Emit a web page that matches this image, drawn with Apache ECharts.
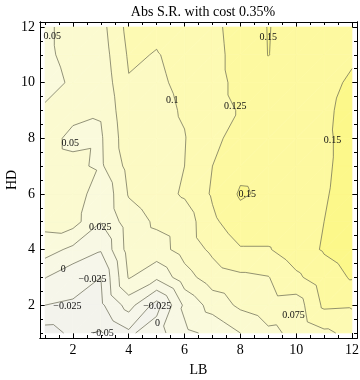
<!DOCTYPE html>
<html><head><meta charset="utf-8">
<script src="https://cdn.jsdelivr.net/npm/echarts@6/dist/echarts.min.js"></script>
<style>html,body{margin:0;padding:0;background:#fff}#c{width:360px;height:380px}</style>
</head><body><div id="c"></div>
<script>
// Grid axes
const LB = [1,2,3,4,5,6,7,8,9,10,11,12];
const HD = [1,2,3,4,5,6,7,8,9,10,11,12];
// Values by row (HD = 1 .. 12), columns LB = 1 .. 12
const HD1  = [-0.06, -0.045, -0.052, -0.03, -0.01, 0.02, 0.03, 0.05, 0.07, 0.08, 0.095, 0.107];
const HD2  = [-0.025, -0.027, -0.03, 0.01, -0.035, 0.03, 0.06, 0.08, 0.09, 0.087, 0.13, 0.128];
const HD3  = [0.001, -0.018, -0.025, 0.052, 0.03, 0.065, 0.088, 0.095, 0.099, 0.12, 0.14, 0.152];
const HD4  = [0.036, 0.019, 0.002, 0.06, 0.065, 0.085, 0.105, 0.123, 0.123, 0.14, 0.152, 0.16];
const HD5  = [0.058, 0.06, 0.026, 0.0624, 0.079, 0.086, 0.12, 0.14, 0.14, 0.145, 0.15, 0.159];
const HD6  = [0.06, 0.073, 0.027, 0.077, 0.09, 0.103, 0.128, 0.153, 0.145, 0.145, 0.148, 0.159];
const HD7  = [0.058, 0.0553, 0.046, 0.083, 0.09, 0.1, 0.125, 0.143, 0.142, 0.143, 0.147, 0.157];
const HD8  = [0.058, 0.045, 0.047, 0.091, 0.093, 0.099, 0.12, 0.133, 0.14, 0.143, 0.147, 0.156];
const HD9  = [0.054, 0.056, 0.052, 0.0946, 0.094, 0.102, 0.12, 0.126, 0.14, 0.142, 0.146, 0.157];
const HD10 = [0.04, 0.054, 0.058, 0.0985, 0.097, 0.104, 0.12, 0.129, 0.14, 0.14, 0.14, 0.155];
const HD11 = [0.045, 0.058, 0.062, 0.103, 0.099, 0.106, 0.12, 0.131, 0.1505, 0.14, 0.14, 0.145];
const HD12 = [0.045, 0.06, 0.066, 0.108, 0.104, 0.113, 0.121, 0.132, 0.151, 0.14, 0.14, 0.145];
const Z = [HD1, HD2, HD3, HD4, HD5, HD6, HD7, HD8, HD9, HD10, HD11, HD12];

const levels = [-0.05, -0.025, 0, 0.025, 0.05, 0.075, 0.1, 0.125, 0.15];
const bandColors = ['#efefec','#f3f3ec','#f6f6ea','#f8f8e4','#fafadc','#fbfad0','#fcfac3','#fdfab3','#fdf9a0','#fcf88a'];

// Contour labels (LB, HD, text)
const labelLB   = [1.26, 5.56, 7.82, 9.0, 1.9, 11.3, 8.25, 2.98, 1.65, 2.7, 1.8, 3.05, 5.02, 5.03, 9.9];
const labelHD   = [11.65, 9.38, 9.13, 11.62, 7.83, 7.94, 6.0, 4.81, 3.3, 2.94, 1.94, 1.0, 1.94, 1.36, 1.65];
const labelText = ['0.05','0.1','0.125','0.15','0.05','0.15','0.15','0.025','0','\u22120.025','\u22120.025','\u22120.05','\u22120.025','0','0.075'];

const xMajor = [2,4,6,8,10,12];
const yMajor = [2,4,6,8,10,12];
const minor = [];
for (let t = 1; t <= 12; t += 0.5) if (t % 2 !== 0) minor.push(t);

const SERIF = '"Liberation Serif", "DejaVu Serif", serif';
const PAD = 0.18;

function lerp(a, b, L) {
  const t = (L - a.v) / (b.v - a.v);
  return {x: a.x + t * (b.x - a.x), y: a.y + t * (b.y - a.y), v: L};
}
function clip(poly, L, above) {
  const out = [];
  const inside = p => above ? p.v >= L : p.v <= L;
  for (let i = 0; i < poly.length; i++) {
    const a = poly[i], b = poly[(i + 1) % poly.length];
    const ia = inside(a), ib = inside(b);
    if (ia) out.push(a);
    if (ia !== ib) out.push(lerp(a, b, L));
  }
  return out;
}
function cellTris(x0, y0) {
  const ci = LB.indexOf(x0), cj = HD.indexOf(y0);
  const P = (i, j) => ({x: LB[i], y: HD[j], v: Z[j][i]});
  const p00 = P(ci, cj), p10 = P(ci + 1, cj), p11 = P(ci + 1, cj + 1), p01 = P(ci, cj + 1);
  return [[p00, p10, p11], [p00, p11, p01]];
}
const cells = [];
for (let j = 0; j < HD.length - 1; j++) for (let i = 0; i < LB.length - 1; i++) cells.push([LB[i], HD[j]]);

function renderFill(params, api) {
  const tris = cellTris(api.value(0), api.value(1));
  const children = [];
  tris.forEach(tri => {
    for (let k = 0; k <= levels.length; k++) {
      let poly = tri;
      if (k > 0) poly = clip(poly, levels[k - 1], true);
      if (poly.length >= 3 && k < levels.length) poly = clip(poly, levels[k], false);
      if (poly.length >= 3) {
        const pts = poly.map(p => api.coord([p.x, p.y]));
        const c = bandColors[k];
        children.push({type: 'polygon', shape: {points: pts}, style: {fill: c, stroke: c, lineWidth: 0.7}});
      }
    }
  });
  return {type: 'group', children};
}
function renderLines(params, api) {
  const tris = cellTris(api.value(0), api.value(1));
  const children = [];
  tris.forEach(tri => {
    levels.forEach(L => {
      const pts = [];
      for (let e = 0; e < 3; e++) {
        const a = tri[e], b = tri[(e + 1) % 3];
        if ((a.v >= L) !== (b.v >= L)) pts.push(lerp(a, b, L));
      }
      if (pts.length === 2) {
        const p1 = api.coord([pts[0].x, pts[0].y]), p2 = api.coord([pts[1].x, pts[1].y]);
        children.push({type: 'line', shape: {x1: p1[0], y1: p1[1], x2: p2[0], y2: p2[1]},
          style: {stroke: 'rgba(105,105,85,0.8)', lineWidth: 0.9}});
      }
    });
  });
  return {type: 'group', children};
}
const labelData = labelLB.map((x, i) => [x, labelHD[i], labelText[i]]);
function renderLabel(params, api) {
  const p = api.coord([api.value(0), api.value(1)]);
  return {type: 'text', x: p[0], y: p[1],
    style: {text: labelText[params.dataIndex], font: '10px ' + SERIF, fill: '#111', align: 'center', verticalAlign: 'middle'}};
}

function xAx(pos, ticks, len, showLabel, extra) {
  return Object.assign({
    type: 'value', position: pos, min: 1 - PAD, max: 12 + PAD, gridIndex: 0,
    axisLine: {show: true, onZero: false, lineStyle: {color: '#000', width: 1}},
    axisTick: {show: true, inside: true, length: len, customValues: ticks, lineStyle: {color: '#000', width: 1}},
    axisLabel: showLabel ? {show: true, customValues: ticks, fontFamily: SERIF, fontSize: 14, color: '#000', margin: 5} : {show: false},
    splitLine: {show: false}
  }, extra || {});
}

const chart = echarts.init(document.getElementById('c'), null, {renderer: 'canvas'});
chart.setOption({
  backgroundColor: '#fff',
  animation: false,
  title: {text: 'Abs S.R. with cost 0.35%', left: 198, textAlign: 'center', top: 0,
    textStyle: {fontFamily: SERIF, fontSize: 14, fontWeight: 'normal', color: '#000'}},
  grid: {left: 40, right: 3, top: 22, bottom: 42, containLabel: false, outerBoundsMode: 'none'},
  xAxis: [
    xAx('bottom', xMajor, 5, true, {name: 'LB', nameLocation: 'middle', nameGap: 25,
      nameTextStyle: {fontFamily: SERIF, fontSize: 14, color: '#000'}}),
    xAx('bottom', minor, 3, false),
    xAx('top', xMajor, 5, false),
    xAx('top', minor, 3, false)
  ],
  yAxis: [
    xAx('left', yMajor, 5, true, {name: 'HD', nameLocation: 'middle', nameGap: 21, nameMoveOverlap: false,
      nameTextStyle: {fontFamily: SERIF, fontSize: 14, color: '#000'}}),
    xAx('left', minor, 3, false),
    xAx('right', yMajor, 5, false),
    xAx('right', minor, 3, false)
  ],
  series: [
    {type: 'custom', xAxisIndex: 0, yAxisIndex: 0, data: cells, renderItem: renderFill, z: 1, silent: true},
    {type: 'custom', xAxisIndex: 0, yAxisIndex: 0, data: cells, renderItem: renderLines, z: 2, silent: true},
    {type: 'custom', xAxisIndex: 0, yAxisIndex: 0, data: labelData, renderItem: renderLabel, z: 3, silent: true}
  ]
});
</script>
</body></html>
